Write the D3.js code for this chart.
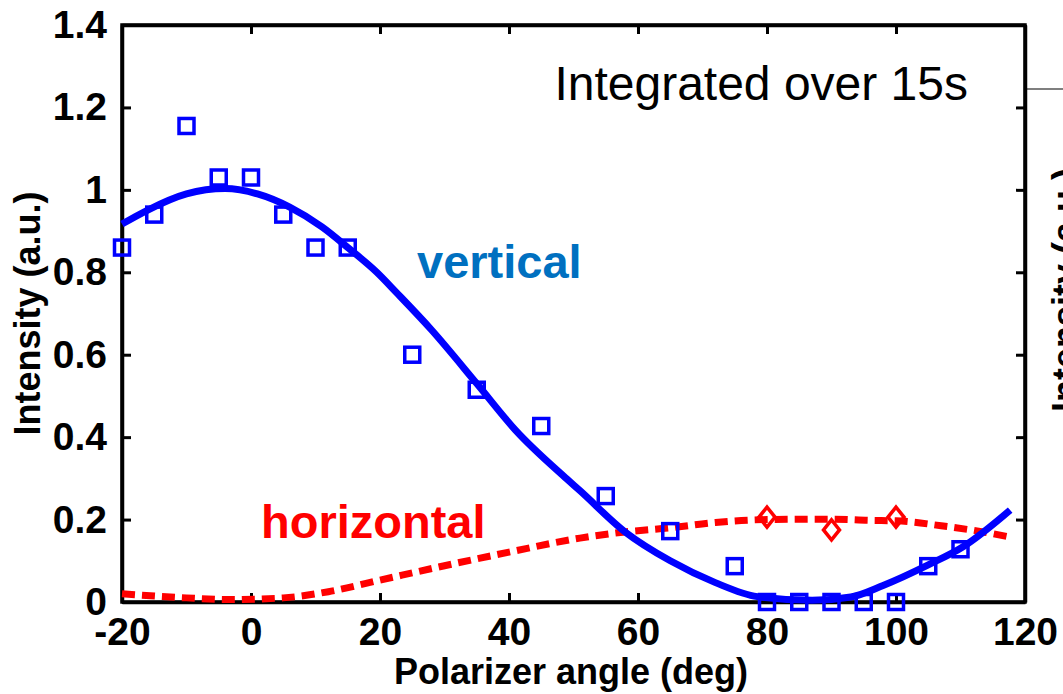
<!DOCTYPE html>
<html>
<head>
<meta charset="utf-8">
<script src="https://cdn.jsdelivr.net/npm/d3@7"></script>
<style>
  html, body { margin: 0; padding: 0; background: #fff; }
  svg { display: block; }
  text { font-family: "Liberation Sans", Arial, sans-serif; }
</style>
</head>
<body>
<svg id="chart" width="1063" height="694"></svg>
<script>
// Measured polarizer angles (deg)
const angles = [-20, -15, -10, -5, 0, 5, 10, 15, 25, 35, 45, 55, 65, 75, 80, 85, 90, 95, 100, 105, 110];
// Vertical-polarization intensity (a.u.)
const verticalData = [0.86, 0.94, 1.155, 1.03, 1.03, 0.94, 0.86, 0.86, 0.60, 0.515, 0.427, 0.257, 0.172, 0.087, 0, 0, 0, 0, 0, 0.087, 0.128];
// Horizontal-polarization measurements
const horizAngles = [80, 90, 100];
const horizontalData = [0.206, 0.175, 0.206];

// Fitted curves: [angle, intensity]
const verticalFit = [[-20, 0.917], [-16, 0.951], [-10, 0.99], [-4, 1.003], [1, 0.99], [6, 0.958], [11, 0.91],
  [15, 0.86], [19.5, 0.8], [22.6, 0.75], [28, 0.66], [35, 0.53], [41, 0.417], [49, 0.298], [51, 0.27],
  [58, 0.17], [65, 0.1], [72, 0.047], [78.5, 0.013], [87, 0.004], [93, 0.012], [98, 0.04], [105, 0.09],
  [110.4, 0.134], [117.7, 0.223]];
const horizontalFit = [[-20, 0.02], [-10, 0.01], [-3, 0.006], [5, 0.01], [12, 0.025], [20, 0.053], [30, 0.088],
  [40, 0.121], [51, 0.155], [58, 0.17], [65, 0.18], [72, 0.193], [80, 0.2], [90, 0.201], [96, 0.198],
  [100, 0.197], [107, 0.185], [113.5, 0.17], [117.5, 0.158]];

const xTicks = [-20, 0, 20, 40, 60, 80, 100, 120];
const yTicks = [0, 0.2, 0.4, 0.6, 0.8, 1, 1.2, 1.4];

const svg = d3.select("#chart");
const x = d3.scaleLinear().domain([-20, 120]).range([122, 1025]);
const y = d3.scaleLinear().domain([0, 1.4]).range([602, 25]);

const BLUE = "#0000ff", RED = "#ff0000";

// Frame
svg.append("rect")
  .attr("x", x(-20)).attr("y", y(1.4))
  .attr("width", x(120) - x(-20)).attr("height", y(0) - y(1.4))
  .attr("fill", "none").attr("stroke", "#000").attr("stroke-width", 3.5);

// Axes with inward ticks; labels use a plain hyphen for negatives
const fmt = d => String(d);
const axB = svg.append("g").attr("transform", `translate(0,${y(0)})`)
  .call(d3.axisBottom(x).tickValues(xTicks).tickSizeInner(-9).tickSizeOuter(0).tickPadding(15).tickFormat(fmt));
const axT = svg.append("g").attr("transform", `translate(0,${y(1.4)})`)
  .call(d3.axisTop(x).tickValues(xTicks).tickSizeInner(-9).tickSizeOuter(0).tickFormat(""));
const axL = svg.append("g").attr("transform", `translate(${x(-20)},0)`)
  .call(d3.axisLeft(y).tickValues(yTicks).tickSizeInner(-9).tickSizeOuter(0).tickPadding(15).tickFormat(fmt));
const axR = svg.append("g").attr("transform", `translate(${x(120)},0)`)
  .call(d3.axisRight(y).tickValues(yTicks).tickSizeInner(-9).tickSizeOuter(0).tickFormat(""));
[axB, axT, axL, axR].forEach(g => {
  g.select(".domain").attr("stroke", "#000").attr("stroke-width", 3.5);
  g.selectAll(".tick line").attr("stroke", "#000").attr("stroke-width", 3);
  g.selectAll(".tick text").attr("fill", "#000")
    .style("font-family", "'Liberation Sans', Arial, sans-serif")
    .style("font-size", "39px").style("font-weight", "bold");
});
axB.selectAll(".tick text").attr("dy", "0.71em");

// Axis titles
svg.append("text")
  .attr("x", 571).attr("y", 684)
  .attr("text-anchor", "middle")
  .style("font-size", "36px").style("font-weight", "bold")
  .text("Polarizer angle (deg)");
svg.append("text")
  .attr("transform", `translate(40,${(y(0) + y(1.4)) / 2}) rotate(-90)`)
  .attr("text-anchor", "middle")
  .style("font-size", "36px").style("font-weight", "bold")
  .text("Intensity (a.u.)");

// Neighbouring panel edge (cut off at the right)
svg.append("line").attr("x1", 1025).attr("x2", 1063).attr("y1", 89).attr("y2", 89)
  .attr("stroke", "#000").attr("stroke-width", 1.2);
svg.append("text")
  .attr("transform", `translate(1078,290) rotate(-90)`)
  .attr("text-anchor", "middle")
  .style("font-size", "36px").style("font-weight", "bold")
  .text("Intensity (a.u.)");

// Fitted curves
const line = d3.line().x(d => x(d[0])).y(d => y(d[1])).curve(d3.curveMonotoneX);
svg.append("path").datum(horizontalFit)
  .attr("d", line).attr("fill", "none").attr("stroke", RED)
  .attr("stroke-width", 7).attr("stroke-dasharray", "13,7");
svg.append("path").datum(verticalFit)
  .attr("d", line).attr("fill", "none").attr("stroke", BLUE)
  .attr("stroke-width", 7).attr("stroke-linejoin", "round");

// Measured points
const sq = 15;
svg.append("g").selectAll("rect")
  .data(angles.map((a, i) => [a, verticalData[i]]))
  .join("rect")
  .attr("x", d => x(d[0]) - sq / 2).attr("y", d => y(d[1]) - sq / 2)
  .attr("width", sq).attr("height", sq)
  .attr("fill", "none").attr("stroke", BLUE).attr("stroke-width", 3.5);

svg.append("g").selectAll("path")
  .data(horizAngles.map((a, i) => [a, horizontalData[i]]))
  .join("path")
  .attr("d", d => {
    const cx = x(d[0]), cy = y(d[1]), w = 8, h = 10;
    return `M${cx},${cy - h}L${cx + w},${cy}L${cx},${cy + h}L${cx - w},${cy}Z`;
  })
  .attr("fill", "none").attr("stroke", RED).attr("stroke-width", 3.5);

// Annotations
svg.append("text")
  .attr("x", 968).attr("y", 100).attr("text-anchor", "end")
  .style("font-size", "48px")
  .text("Integrated over 15s");
svg.append("text")
  .attr("x", 417).attr("y", 278)
  .attr("fill", "#0070c0")
  .style("font-size", "47px").style("font-weight", "bold")
  .text("vertical");
svg.append("text")
  .attr("x", 261).attr("y", 538)
  .attr("fill", RED)
  .style("font-size", "47px").style("font-weight", "bold")
  .text("horizontal");
</script>
</body>
</html>
